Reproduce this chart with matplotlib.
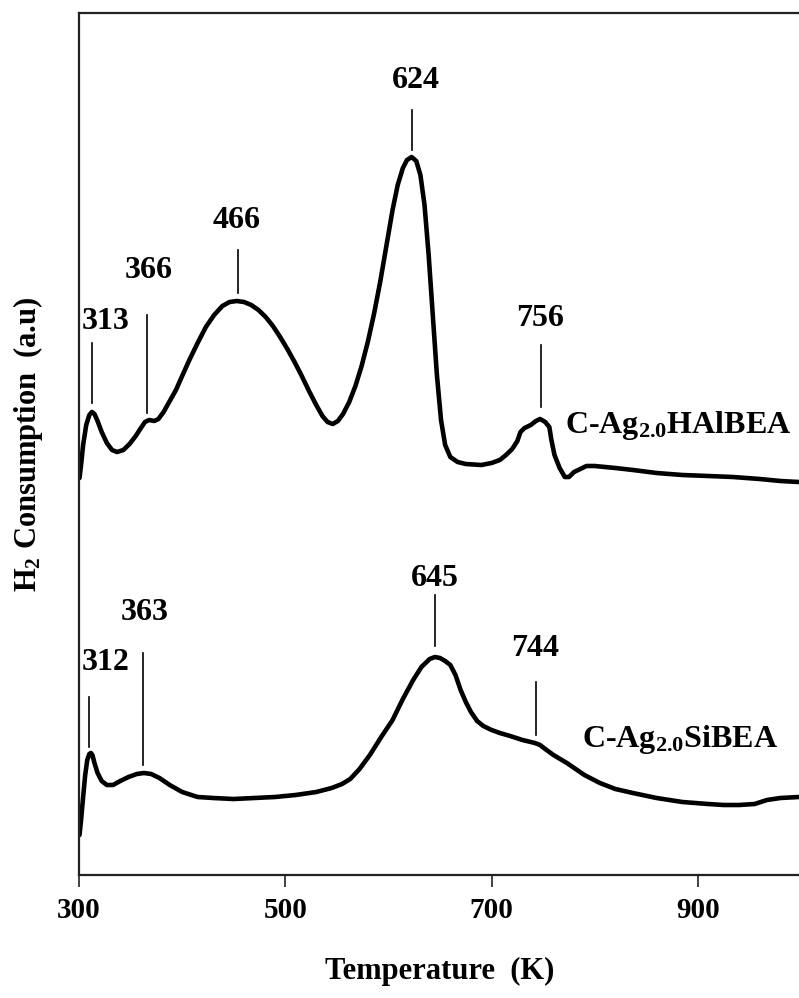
import matplotlib
matplotlib.use("Agg")
import matplotlib.pyplot as plt

plt.rcParams['font.family'] = ['Liberation Serif', 'DejaVu Serif']
plt.rcParams['font.weight'] = 'bold'
plt.rcParams['mathtext.fontset'] = 'custom'
plt.rcParams['mathtext.rm'] = 'Liberation Serif:bold'
plt.rcParams['mathtext.it'] = 'Liberation Serif:bold'
plt.rcParams['mathtext.bf'] = 'Liberation Serif:bold'

# ---------------- data ----------------
# C-Ag2.0HAlBEA (upper trace)
hal_T = [300.5, 302, 304, 307, 310, 312.5, 315, 318, 322, 327, 332, 337, 343, 349, 355, 360,
         364, 368, 373, 377, 382, 388, 394, 400, 407, 415, 423, 431, 439, 446, 453, 460,
         467, 474, 481, 488, 495, 502, 509, 516, 523, 530, 536, 541, 546, 551, 556, 562,
         568, 574, 580, 586, 592, 598, 604, 609, 614, 618, 622.5, 627, 631, 635, 639, 643,
         647, 651, 655, 660, 667, 675, 690, 700, 708, 714, 720, 725, 728, 732, 738, 743,
         747, 752, 756, 758, 761, 766, 771, 775, 780, 786, 792, 800, 820, 837, 860, 885,
         910, 934, 960, 980, 998]
hal_H = [39.7, 41.0, 43.0, 45.0, 46.0, 46.3, 46.1, 45.4, 44.3, 43.2, 42.5, 42.3, 42.5, 43.1, 43.9, 44.7,
         45.3, 45.5, 45.4, 45.6, 46.3, 47.4, 48.5, 49.9, 51.5, 53.2, 54.8, 56.0, 56.9, 57.3, 57.4, 57.3,
         57.0, 56.5, 55.8, 54.9, 53.8, 52.6, 51.3, 49.9, 48.4, 47.0, 45.9, 45.3, 45.1, 45.4, 46.1, 47.3,
         48.9, 50.9, 53.3, 56.1, 59.3, 62.9, 66.5, 69.0, 70.7, 71.5, 71.8, 71.4, 70.0, 67.0, 62.0, 56.0,
         50.0, 45.5, 43.0, 41.8, 41.3, 41.1, 41.0, 41.2, 41.5, 42.0, 42.6, 43.4, 44.3, 44.7, 45.0, 45.4,
         45.6, 45.3, 44.8, 43.5, 42.0, 40.7, 39.8, 39.8, 40.3, 40.6, 40.9, 40.9, 40.7, 40.5, 40.2, 40.0,
         39.9, 39.8, 39.6, 39.4, 39.3]

# C-Ag2.0SiBEA (lower trace)
si_T = [300.5, 302, 304, 306, 308, 310, 311.5, 313, 315, 318, 322, 327, 333, 340, 348, 356,
        363, 370, 378, 388, 400, 415, 430, 450, 470, 490, 510, 530, 545, 555, 563, 572,
        582, 593, 604, 614, 624, 632, 640, 645, 650, 655, 660, 665, 670, 675, 680, 686,
        692, 700, 708, 718, 730, 742, 747, 752, 760, 773, 790, 805, 820, 837, 860, 885,
        910, 925, 940, 955, 967, 980, 998]
si_H = [4.0, 5.5, 7.8, 10.0, 11.5, 12.1, 12.2, 12.0, 11.2, 10.2, 9.4, 9.0, 9.0, 9.4, 9.8, 10.1,
        10.2, 10.1, 9.7, 9.0, 8.3, 7.8, 7.7, 7.6, 7.7, 7.8, 8.0, 8.3, 8.7, 9.1, 9.6, 10.6,
        12.0, 13.8, 15.5, 17.6, 19.5, 20.8, 21.6, 21.8, 21.7, 21.4, 21.0, 20.0, 18.5, 17.3, 16.3, 15.4,
        14.9, 14.5, 14.2, 13.9, 13.5, 13.2, 13.0, 12.6, 12.0, 11.2, 10.0, 9.2, 8.6, 8.2, 7.7, 7.3,
        7.1, 7.0, 7.0, 7.1, 7.5, 7.7, 7.8]

# peak annotations: text, marker temperature, marker bottom/top, label position
hal_peak_text = ['313', '366', '466', '624', '756']
hal_peak_T = [312.5, 366, 454, 622.5, 747.5]
hal_peak_lo = [47.2, 46.2, 58.2, 72.5, 46.8]
hal_peak_hi = [53.2, 56.0, 62.5, 76.5, 53.0]
hal_label_T = [326, 368, 453, 627, 747]
hal_label_H = [55.4, 60.5, 65.5, 79.5, 55.7]

si_peak_text = ['312', '363', '645', '744']
si_peak_T = [309.7, 362, 645, 743]
si_peak_lo = [12.8, 11.0, 22.9, 14.0]
si_peak_hi = [17.8, 22.2, 28.0, 19.3]
si_label_T = [326, 364, 645, 742]
si_label_H = [21.3, 26.3, 29.7, 22.7]

series_names = ['C-Ag$_{2.0}$HAlBEA', 'C-Ag$_{2.0}$SiBEA']
series_name_T = [771, 788]
series_name_H = [45.0, 13.5]

xticks = [300, 500, 700, 900]

# ---------------- plot ----------------
fig = plt.figure(figsize=(7.99, 9.98), dpi=100)
ax = fig.add_axes([79/799, 123/998, 722/799, 862/998])

ax.plot(hal_T, hal_H, color='black', lw=3.3, solid_joinstyle='round', solid_capstyle='round')
ax.plot(si_T, si_H, color='black', lw=3.3, solid_joinstyle='round', solid_capstyle='round')

for txt, t, lo, hi, lt, lh in zip(hal_peak_text, hal_peak_T, hal_peak_lo, hal_peak_hi,
                                  hal_label_T, hal_label_H):
    ax.plot([t, t], [lo, hi], color='black', lw=1.2)
    ax.text(lt, lh, txt, ha='center', va='center', fontsize=23, fontweight='bold')

for txt, t, lo, hi, lt, lh in zip(si_peak_text, si_peak_T, si_peak_lo, si_peak_hi,
                                  si_label_T, si_label_H):
    ax.plot([t, t], [lo, hi], color='black', lw=1.2)
    ax.text(lt, lh, txt, ha='center', va='center', fontsize=23, fontweight='bold')

for name, t, h in zip(series_names, series_name_T, series_name_H):
    ax.text(t, h, name, ha='left', va='center', fontsize=23, fontweight='bold')

ax.set_xlim(300, 1000)
ax.set_ylim(0, 86.2)
ax.set_xticks(xticks)
ax.set_xticklabels([str(v) for v in xticks], fontsize=21, fontweight='bold')
ax.set_yticks([])
ax.tick_params(axis='x', direction='out', length=8.5, width=1.2, pad=7, color='#222222')
for s in ax.spines.values():
    s.set_linewidth(1.6)
    s.set_color('#222222')

ax.set_xlabel('Temperature  (K)', fontsize=22, fontweight='bold')
ax.xaxis.set_label_coords(0.5, -0.095)
ax.set_ylabel('H$_2$ Consumption  (a.u)', fontsize=22, fontweight='bold')
ax.yaxis.set_label_coords(-0.047, 0.5)

fig.savefig('out.png', dpi=100)
